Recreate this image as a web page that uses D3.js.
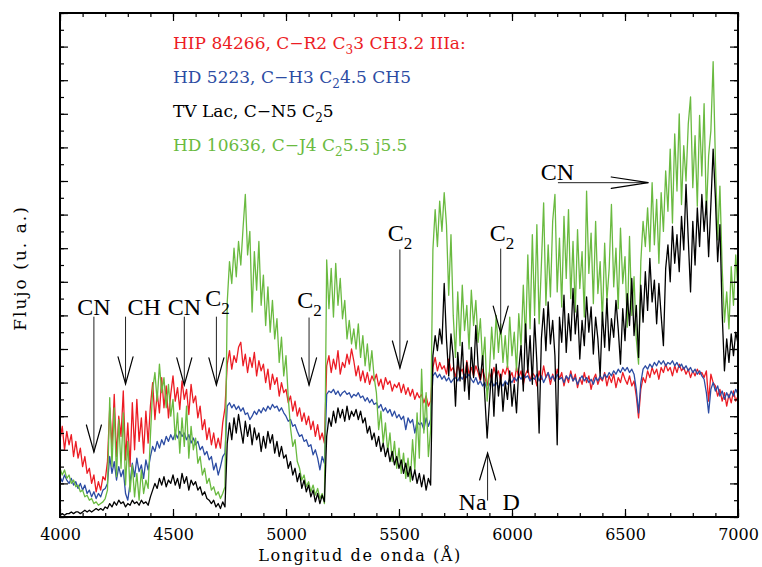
<!DOCTYPE html>
<html>
<head>
<meta charset="utf-8">
<script src="https://cdn.jsdelivr.net/npm/d3@7"></script>
<style>
  body { margin: 0; background: #fff; }
  svg { display: block; }
</style>
</head>
<body>
<svg id="chart" width="762" height="567"></svg>
<script>
// Sampling grid of the spectra (Å)
const wavelengths = d3.range(4000, 7001, 10);

// Relative flux, one value per 10 Å
const hip84266 = [
  4.6, 5.4, 4.0, 5.1, 4.3, 4.9, 3.6, 4.5, 3.5, 4.1,
  3.0, 3.6, 2.6, 2.9, 2.0, 2.5, 1.5, 2.1, 1.6, 2.4,
  2.2, 3.3, 6.5, 4.2, 7.3, 3.6, 6.0, 4.8, 7.5, 3.4,
  5.6, 3.0, 6.8, 4.0, 7.0, 4.5, 5.9, 3.8, 6.3, 4.4,
  6.6, 8.0, 5.8, 7.4, 6.2, 8.3, 6.5, 7.8, 5.9, 7.3,
  8.4, 6.9, 7.7, 6.4, 8.1, 7.0, 7.6, 6.1, 7.9, 6.8,
  7.2, 5.9, 6.6, 5.2, 5.8, 4.6, 5.3, 4.3, 5.0, 4.1,
  4.7, 4.1, 5.6, 6.5, 9.1, 9.9, 8.8, 9.6, 9.2, 10.1,
  10.4, 9.0, 9.7, 8.6, 9.5, 8.9, 9.8, 8.4, 9.3, 8.7,
  9.1, 8.0, 8.8, 7.6, 8.5, 7.9, 8.3, 7.2, 8.0, 7.4,
  7.6, 6.8, 7.2, 6.3, 6.9, 6.0, 6.5, 5.7, 6.2, 5.5,
  6.0, 5.2, 5.7, 4.8, 5.5, 4.6, 5.0, 4.4, 9.0, 9.6,
  8.6, 9.4, 8.8, 9.9, 8.5, 9.2, 8.9, 9.7, 9.1, 10.0,
  9.3, 8.4, 9.0, 8.1, 8.7, 8.0, 8.6, 7.9, 8.4, 8.1,
  8.5, 7.8, 8.2, 7.6, 8.3, 7.9, 8.1, 7.5, 7.9, 7.7,
  8.0, 7.4, 7.9, 7.3, 7.7, 7.2, 7.6, 7.0, 7.4, 7.1,
  7.3, 6.8, 7.2, 6.6, 6.9, 8.9, 9.5, 8.7, 9.2, 8.8,
  9.0, 8.5, 9.4, 8.7, 8.9, 8.3, 9.1, 8.6, 8.8, 8.2,
  9.3, 8.5, 8.9, 8.4, 9.0, 8.6, 8.1, 8.8, 8.3, 7.8,
  8.6, 8.2, 8.9, 8.4, 8.7, 8.1, 8.8, 8.5, 9.0, 8.3,
  8.6, 8.0, 8.9, 8.3, 8.7, 7.9, 8.5, 8.8, 8.1, 8.6,
  8.4, 7.8, 8.7, 8.2, 9.0, 8.3, 8.6, 7.9, 8.5, 8.1,
  8.8, 8.2, 8.6, 7.8, 8.4, 8.0, 8.7, 8.1, 8.5, 7.7,
  8.3, 7.9, 8.6, 8.0, 8.4, 7.6, 8.2, 8.5, 7.9, 8.3,
  8.1, 8.6, 7.8, 8.4, 8.0, 8.5, 7.7, 8.3, 8.0, 8.6,
  8.2, 7.9, 8.4, 7.8, 8.1, 7.2, 5.9, 7.6, 8.3, 8.0,
  8.7, 8.3, 8.9, 8.5, 8.8, 8.2, 8.9, 8.6, 9.1, 8.7,
  8.9, 8.4, 9.0, 8.6, 9.1, 8.7, 8.9, 8.5, 8.8, 8.3,
  8.7, 8.4, 8.8, 8.5, 8.6, 8.3, 8.7, 6.9, 8.5, 8.0,
  7.8, 7.2, 7.6, 6.9, 7.4, 6.6, 7.3, 6.8, 7.5, 6.9,
  7.2
];

const hd5223 = [
  2.4, 2.1, 2.5, 2.2, 2.0, 2.3, 1.9, 2.1, 1.7, 2.0,
  1.6, 1.9, 1.4, 1.6, 1.2, 1.5, 1.1, 1.4, 1.2, 1.6,
  1.7, 2.0, 3.6, 2.6, 3.3, 2.2, 3.0, 2.4, 2.8, 1.4,
  1.0, 2.0, 3.2, 2.4, 3.5, 2.7, 3.1, 2.3, 3.4, 2.8,
  3.6, 4.2, 3.9, 4.5, 4.1, 4.6, 4.3, 4.8, 4.5, 4.9,
  4.6, 5.0, 4.7, 5.1, 4.8, 5.0, 4.6, 4.9, 4.4, 4.7,
  4.3, 4.5, 4.0, 4.2, 3.7, 3.9, 3.4, 3.6, 2.8, 3.2,
  2.5, 3.0, 3.6, 3.8, 6.6, 6.8, 6.5, 6.7, 6.4, 6.6,
  6.3, 6.5, 6.1, 6.2, 5.8, 6.0, 6.3, 6.1, 6.4, 6.2,
  6.5, 6.3, 6.6, 6.4, 6.7, 6.5, 6.6, 6.3, 6.5, 6.2,
  6.0, 5.7, 5.8, 5.4, 5.5, 5.1, 4.8, 4.9, 4.5, 4.6,
  4.2, 4.3, 3.7, 4.0, 3.5, 2.8, 3.6, 3.2, 7.3, 7.5,
  7.4, 7.6, 7.3, 7.5, 7.2, 7.4, 7.5, 7.3, 7.4, 7.1,
  7.3, 7.2, 7.4, 7.1, 7.2, 6.9, 7.1, 6.8, 7.0, 6.7,
  6.8, 6.5, 6.7, 6.3, 6.5, 6.2, 6.4, 6.0, 6.3, 5.9,
  6.1, 5.8, 6.0, 5.2, 5.9, 5.6, 5.8, 5.0, 5.7, 5.5,
  5.6, 5.2, 5.9, 5.4, 5.8, 8.4, 8.6, 8.3, 8.5, 8.2,
  8.4, 8.1, 8.3, 8.0, 8.2, 8.3, 8.1, 8.4, 8.2, 8.5,
  8.3, 8.5, 8.2, 8.0, 8.3, 7.9, 8.1, 7.8, 8.0, 7.5,
  7.9, 8.1, 7.8, 8.0, 7.7, 8.0, 7.8, 8.1, 7.9, 8.2,
  8.0, 8.3, 8.1, 8.4, 8.2, 8.5, 8.3, 8.4, 8.1, 8.3,
  8.2, 8.5, 8.1, 8.4, 8.0, 8.3, 8.6, 8.2, 8.4, 8.1,
  8.5, 8.2, 8.3, 8.0, 8.4, 8.2, 8.5, 8.1, 8.3, 7.9,
  8.2, 8.4, 8.1, 8.3, 8.0, 8.2, 7.9, 8.3, 8.1, 8.4,
  8.2, 8.5, 8.3, 8.6, 8.4, 8.7, 8.5, 8.8, 8.6, 8.9,
  8.7, 8.9, 8.6, 8.8, 8.5, 7.6, 6.2, 8.0, 8.8, 9.0,
  8.8, 9.1, 8.9, 9.2, 9.0, 9.3, 9.1, 9.3, 9.0, 9.2,
  9.1, 9.3, 9.0, 9.2, 8.9, 9.1, 8.8, 9.0, 8.7, 8.9,
  8.6, 8.8, 8.5, 8.7, 8.4, 8.2, 7.4, 6.2, 7.6, 8.0,
  7.5, 7.8, 7.2, 7.5, 7.0, 7.4, 7.1, 7.5, 7.2, 7.6,
  7.3
];

const tvLac = [
  0.1, 0.2, 0.1, 0.2, 0.2, 0.3, 0.2, 0.3, 0.3, 0.2,
  0.3, 0.4, 0.3, 0.4, 0.3, 0.4, 0.5, 0.4, 0.5, 0.4,
  0.6, 0.5, 0.8, 0.6, 0.9, 0.7, 1.0, 0.8, 0.9, 0.6,
  0.8, 0.7, 1.0, 0.8, 0.9, 0.7, 1.0, 0.8, 0.9, 0.7,
  1.2, 1.6, 2.0, 1.7, 2.3, 1.9, 2.4, 1.8, 2.2, 2.0,
  2.5, 1.9, 2.3, 1.7, 2.6, 2.0, 2.4, 1.6, 2.2, 1.9,
  2.1, 1.6, 1.8, 1.3, 1.5, 1.1, 1.0, 0.8, 1.0, 0.6,
  0.8, 0.5, 0.9, 0.6, 4.4, 5.6, 4.6, 5.9, 5.0, 6.1,
  5.2, 4.4, 5.7, 4.8, 5.5, 4.3, 5.3, 4.6, 5.0, 3.9,
  4.8, 4.1, 5.1, 4.4, 4.9, 3.8, 4.5, 3.6, 4.2, 3.5,
  3.7, 2.9, 3.3, 2.5, 2.9, 2.1, 2.6, 1.7, 2.2, 1.5,
  1.9, 1.2, 1.6, 0.9, 1.4, 0.8, 1.3, 0.9, 4.8, 5.9,
  5.4, 6.3, 5.6, 6.5, 5.9, 6.4, 5.7, 6.6, 5.8, 6.3,
  6.0, 6.4, 5.8, 6.3, 5.6, 5.9, 5.0, 5.4, 4.6, 5.0,
  4.2, 4.8, 3.9, 4.4, 3.6, 4.1, 3.3, 3.9, 3.1, 3.6,
  2.9, 3.4, 2.6, 3.2, 2.4, 3.0, 2.2, 2.8, 2.0, 2.6,
  1.8, 2.5, 1.6, 2.3, 1.9, 9.6, 10.8, 9.9, 11.2, 10.3,
  13.9, 10.6, 8.4, 10.9, 9.5, 6.6, 9.8, 8.1, 10.4, 7.5,
  9.2, 7.0, 10.1, 8.3, 11.4, 9.0, 8.2, 9.6, 7.1, 4.7,
  6.8, 8.8, 6.0, 9.1, 7.2, 8.5, 6.3, 8.0, 7.0, 8.7,
  6.6, 7.9, 6.2, 8.8, 10.2, 7.5, 11.5, 8.6, 10.8, 7.9,
  11.8, 9.2, 5.0, 10.6, 12.4, 9.9, 12.8, 10.3, 11.7, 9.6,
  4.3, 11.9, 10.4, 13.2, 9.8, 12.1, 10.5, 13.6, 10.9, 12.6,
  9.4, 11.7, 10.2, 13.1, 11.0, 12.5, 9.7, 11.9, 10.6, 8.4,
  12.2, 10.1, 13.0, 9.9, 11.8, 10.7, 12.9, 11.2, 9.1, 12.4,
  10.5, 13.3, 11.4, 14.2, 10.8, 12.6, 9.5, 13.8, 11.6, 14.6,
  12.3, 15.4, 12.8, 14.1, 11.5, 13.9, 12.0, 10.2, 14.8, 16.2,
  14.0, 17.3, 15.1, 16.8, 14.6, 17.9, 15.9, 19.8, 16.5, 13.4,
  17.6, 15.0, 18.4, 16.1, 19.2, 17.0, 18.8, 15.5, 18.6, 21.9,
  19.0, 15.2, 17.4, 12.1, 8.7, 10.6, 9.2, 10.9, 9.6, 11.0,
  10.3
];

const hd10636 = [
  2.9, 2.5, 2.8, 2.3, 2.5, 2.0, 2.2, 1.8, 1.9, 1.5,
  1.6, 1.2, 1.3, 1.0, 1.1, 0.8, 0.9, 0.7, 0.8, 0.9,
  1.1, 1.6, 7.1, 3.0, 6.5, 2.4, 5.8, 2.9, 6.2, 1.9,
  4.5, 1.5, 3.1, 1.2, 2.6, 1.0, 2.8, 1.4, 2.2, 1.7,
  4.8, 7.6, 8.6, 6.9, 9.1, 7.4, 8.3, 6.5, 7.9, 6.0,
  7.0, 4.6, 6.2, 3.8, 5.9, 4.2, 6.6, 3.5, 5.4, 4.0,
  4.7, 3.2, 3.6, 2.5, 2.9, 2.0, 2.3, 1.6, 1.8, 1.3,
  1.5, 1.1, 1.4, 1.8, 12.8, 15.2, 13.9, 16.0, 14.3, 16.4,
  15.0, 17.2, 19.2, 15.6, 17.0, 12.2, 15.8, 13.5, 16.4, 12.6,
  14.4, 11.4, 13.7, 11.0, 12.9, 10.6, 11.8, 9.2, 10.7, 8.4,
  9.6, 7.1, 5.3, 4.2, 4.6, 3.3, 2.9, 2.2, 2.5, 1.8,
  2.1, 1.5, 1.9, 1.3, 1.7, 1.1, 1.4, 0.8, 15.3, 12.4,
  14.8, 11.9, 15.1, 12.6, 14.2, 11.8, 12.9, 10.6, 11.7, 10.3,
  11.2, 10.0, 11.5, 9.5, 10.8, 9.0, 10.3, 8.7, 9.9, 8.3,
  7.4, 5.2, 6.3, 4.4, 5.6, 3.9, 5.0, 3.3, 4.5, 2.9,
  4.1, 2.6, 3.8, 2.3, 3.5, 2.1, 4.6, 2.8, 6.2, 3.5,
  8.8, 5.0, 7.4, 3.6, 5.2, 15.9, 18.3, 16.1, 18.8, 17.0,
  19.3, 17.4, 13.2, 16.8, 12.0, 9.5, 13.4, 10.2, 13.8, 11.1,
  12.6, 10.0, 13.5, 11.4, 12.9, 10.4, 11.8, 9.1, 10.7, 6.9,
  8.6, 11.3, 9.4, 12.0, 9.8, 11.5, 9.2, 10.8, 8.9, 11.9,
  9.6, 11.0, 8.7, 12.1, 10.1, 13.8, 10.4, 15.6, 11.2, 16.8,
  12.0, 17.4, 11.5, 15.0, 18.7, 12.6, 16.2, 13.1, 17.6, 19.2,
  13.4, 16.6, 12.5, 17.9, 14.2, 18.3, 13.0, 16.4, 12.2, 17.1,
  13.6, 15.8, 11.9, 19.4, 14.5, 16.9, 12.7, 17.6, 13.3, 15.2,
  11.6, 16.3, 12.9, 14.8, 18.6, 13.7, 16.0, 12.4, 17.2, 13.9,
  15.5, 11.3, 16.7, 12.0, 14.3, 10.6, 9.1, 15.2, 17.6, 16.1,
  18.4, 15.8, 19.9, 16.2, 18.9, 15.1, 19.3, 17.0, 20.6, 18.2,
  21.9, 17.5, 22.8, 19.4, 24.0, 18.6, 22.1, 20.0, 23.4, 25.0,
  19.6, 22.7, 18.5, 23.9, 20.3, 24.6, 18.0, 21.5, 23.0, 27.1,
  21.2, 16.5, 19.7, 14.8, 11.6, 13.4, 11.2, 14.9, 12.6, 15.6,
  13.5
];

// Legend labels: [text, subscript, text]
const starLabels = [
  ["HIP 84266, C\u2212R2 C", "3", "3 CH3.2 IIIa:"],
  ["HD 5223, C\u2212H3 C", "2", "4.5 CH5"],
  ["TV Lac, C\u2212N5 C", "2", "5"],
  ["HD 10636, C\u2212J4 C", "2", "5.5 j5.5"]
];
const starColors = ["#ec1c24", "#2c4ca3", "#000000", "#6aba40"];

// Axis ticks
const xMajorTicks = [4000, 4500, 5000, 5500, 6000, 6500, 7000];
const xMinorTicks = d3.range(4000, 7001, 100);
const yMajorTicks = d3.range(0, 31, 2);
const yMinorTicks = d3.range(0, 31, 1);

const series = [
  { values: hip84266, color: starColors[0] },
  { values: hd5223,   color: starColors[1] },
  { values: hd10636,  color: starColors[3] },
  { values: tvLac,    color: starColors[2] }
];

const svg = d3.select("#chart");
const FONT = "'DejaVu Serif', serif";
const BAND_FONT = "'Liberation Serif', 'Times New Roman', serif";

const plotLeft = 60, plotRight = 738, plotTop = 13, plotBottom = 517;
const x = d3.scaleLinear().domain([4000, 7000]).range([plotLeft, plotRight]);
const y = d3.scaleLinear().domain([0, 30]).range([plotBottom, plotTop]);

// Spectra
const line = d3.line()
  .x((d, i) => x(wavelengths[i]))
  .y(d => y(d));

const plot = svg.append("g");
series.forEach(s => {
  plot.append("path")
    .datum(s.values)
    .attr("fill", "none")
    .attr("stroke", s.color)
    .attr("stroke-width", 1.3)
    .attr("stroke-linejoin", "round")
    .attr("d", line);
});

// Axes: inward ticks on all four sides
function tickAxis(axis, values, size) {
  return axis.tickValues(values).tickSizeInner(size).tickSizeOuter(0).tickFormat("");
}
function styleTicks(g) {
  g.select(".domain").remove();
  g.selectAll(".tick line").attr("stroke", "#000").attr("stroke-width", 1.2);
}

svg.append("g").attr("transform", `translate(0,${plotBottom})`)
  .call(tickAxis(d3.axisBottom(x), xMinorTicks, -4)).call(styleTicks);
svg.append("g").attr("transform", `translate(0,${plotTop})`)
  .call(tickAxis(d3.axisTop(x), xMinorTicks, -4)).call(styleTicks);
svg.append("g").attr("transform", `translate(0,${plotTop})`)
  .call(tickAxis(d3.axisTop(x), xMajorTicks, -8)).call(styleTicks);
svg.append("g").attr("transform", `translate(${plotLeft},0)`)
  .call(tickAxis(d3.axisLeft(y), yMinorTicks, -4)).call(styleTicks);
svg.append("g").attr("transform", `translate(${plotLeft},0)`)
  .call(tickAxis(d3.axisLeft(y), yMajorTicks, -8)).call(styleTicks);
svg.append("g").attr("transform", `translate(${plotRight},0)`)
  .call(tickAxis(d3.axisRight(y), yMinorTicks, -4)).call(styleTicks);
svg.append("g").attr("transform", `translate(${plotRight},0)`)
  .call(tickAxis(d3.axisRight(y), yMajorTicks, -8)).call(styleTicks);

const xAxis = svg.append("g").attr("transform", `translate(0,${plotBottom})`)
  .call(d3.axisBottom(x).tickValues(xMajorTicks).tickSizeInner(-8).tickSizeOuter(0)
    .tickPadding(12).tickFormat(d3.format("d")))
  .call(styleTicks);
xAxis.attr("font-family", FONT).attr("font-size", 16);
xAxis.selectAll(".tick text").attr("fill", "#000").attr("dy", null).attr("y", 23);

// Frame
svg.append("rect")
  .attr("x", plotLeft).attr("y", plotTop)
  .attr("width", plotRight - plotLeft).attr("height", plotBottom - plotTop)
  .attr("fill", "none").attr("stroke", "#000").attr("stroke-width", 2);

// Axis titles
svg.append("text")
  .attr("x", 360).attr("y", 561)
  .attr("text-anchor", "middle")
  .attr("font-family", FONT).attr("font-size", 16)
  .attr("letter-spacing", 1.6)
  .text("Longitud de onda (\u00C5)");

svg.append("text")
  .attr("transform", "translate(26,268) rotate(-90)")
  .attr("text-anchor", "middle")
  .attr("font-family", FONT).attr("font-size", 17)
  .attr("letter-spacing", 2)
  .text("Flujo (u. a.)");

// Legend
const legend = svg.append("g").attr("font-family", FONT).attr("font-size", 17);
starLabels.forEach((parts, i) => {
  const t = legend.append("text")
    .attr("x", 173).attr("y", 49 + i * 34)
    .attr("fill", starColors[i]);
  t.append("tspan").text(parts[0]);
  t.append("tspan").attr("dy", 5).attr("font-size", 12).text(parts[1]);
  t.append("tspan").attr("dy", -5).text(parts[2]);
});

// Molecular band and line identifications
const bands = [
  { name: "CN", sub: "", at: 4150, labelAt: 4150, tail: 11.9, tip: 3.87, base: 12.0 },
  { name: "CH", sub: "", at: 4290, labelAt: 4372, tail: 11.9, tip: 7.92, base: 12.0 },
  { name: "CN", sub: "", at: 4550, labelAt: 4550, tail: 11.9, tip: 7.86, base: 12.0 },
  { name: "C",  sub: "2", at: 4692, labelAt: 4697, tail: 11.9, tip: 7.86, base: 12.55 },
  { name: "C",  sub: "2", at: 5102, labelAt: 5104, tail: 11.85, tip: 7.86, base: 12.45 },
  { name: "C",  sub: "2", at: 5504, labelAt: 5504, tail: 15.9, tip: 8.87, base: 16.4 },
  { name: "C",  sub: "2", at: 5950, labelAt: 5956, tail: 15.95, tip: 10.95, base: 16.43 }
];

const ann = svg.append("g")
  .attr("font-family", BAND_FONT).attr("font-size", 24)
  .attr("stroke-linecap", "round");

function head(g, pts) {
  g.append("path")
    .attr("d", d3.line()(pts))
    .attr("fill", "none").attr("stroke", "#000").attr("stroke-width", 1.2);
}

bands.forEach(b => {
  const bx = x(b.at);
  const yTail = y(b.tail), yTip = y(b.tip);
  ann.append("line")
    .attr("x1", bx).attr("x2", bx).attr("y1", yTail).attr("y2", yTip)
    .attr("stroke", "#222").attr("stroke-width", 1);
  head(ann, [[bx - 7.5, yTip - 27], [bx, yTip], [bx + 7.5, yTip - 27]]);
  const t = ann.append("text")
    .attr("x", x(b.labelAt)).attr("y", y(b.base))
    .attr("text-anchor", "middle").attr("fill", "#000");
  t.append("tspan").text(b.name);
  if (b.sub) t.append("tspan").attr("dy", 8).attr("font-size", 17).text(b.sub);
});

// Na D (arrow pointing up)
const naX = x(5892);
const naTip = y(3.81), naTail = y(1.0);
ann.append("line")
  .attr("x1", naX).attr("x2", naX).attr("y1", naTail).attr("y2", naTip)
  .attr("stroke", "#222").attr("stroke-width", 1);
head(ann, [[naX - 8, naTip + 27], [naX, naTip], [naX + 8, naTip + 27]]);
ann.append("text").attr("x", naX - 1).attr("y", y(0.42))
  .attr("text-anchor", "end").text("Na");
ann.append("text").attr("x", naX + 15).attr("y", y(0.42))
  .attr("text-anchor", "start").text("D");

// CN band extending redwards (horizontal arrow)
const cnY = y(19.9);
const cnFrom = x(6205), cnTo = x(6603);
ann.append("line")
  .attr("x1", cnFrom).attr("x2", cnTo).attr("y1", cnY).attr("y2", cnY)
  .attr("stroke", "#222").attr("stroke-width", 1);
head(ann, [[cnTo - 37, cnY - 5.7], [cnTo, cnY], [cnTo - 37, cnY + 5.7]]);
ann.append("text").attr("x", x(6201)).attr("y", y(20.06))
  .attr("text-anchor", "middle").text("CN");
</script>
</body>
</html>
